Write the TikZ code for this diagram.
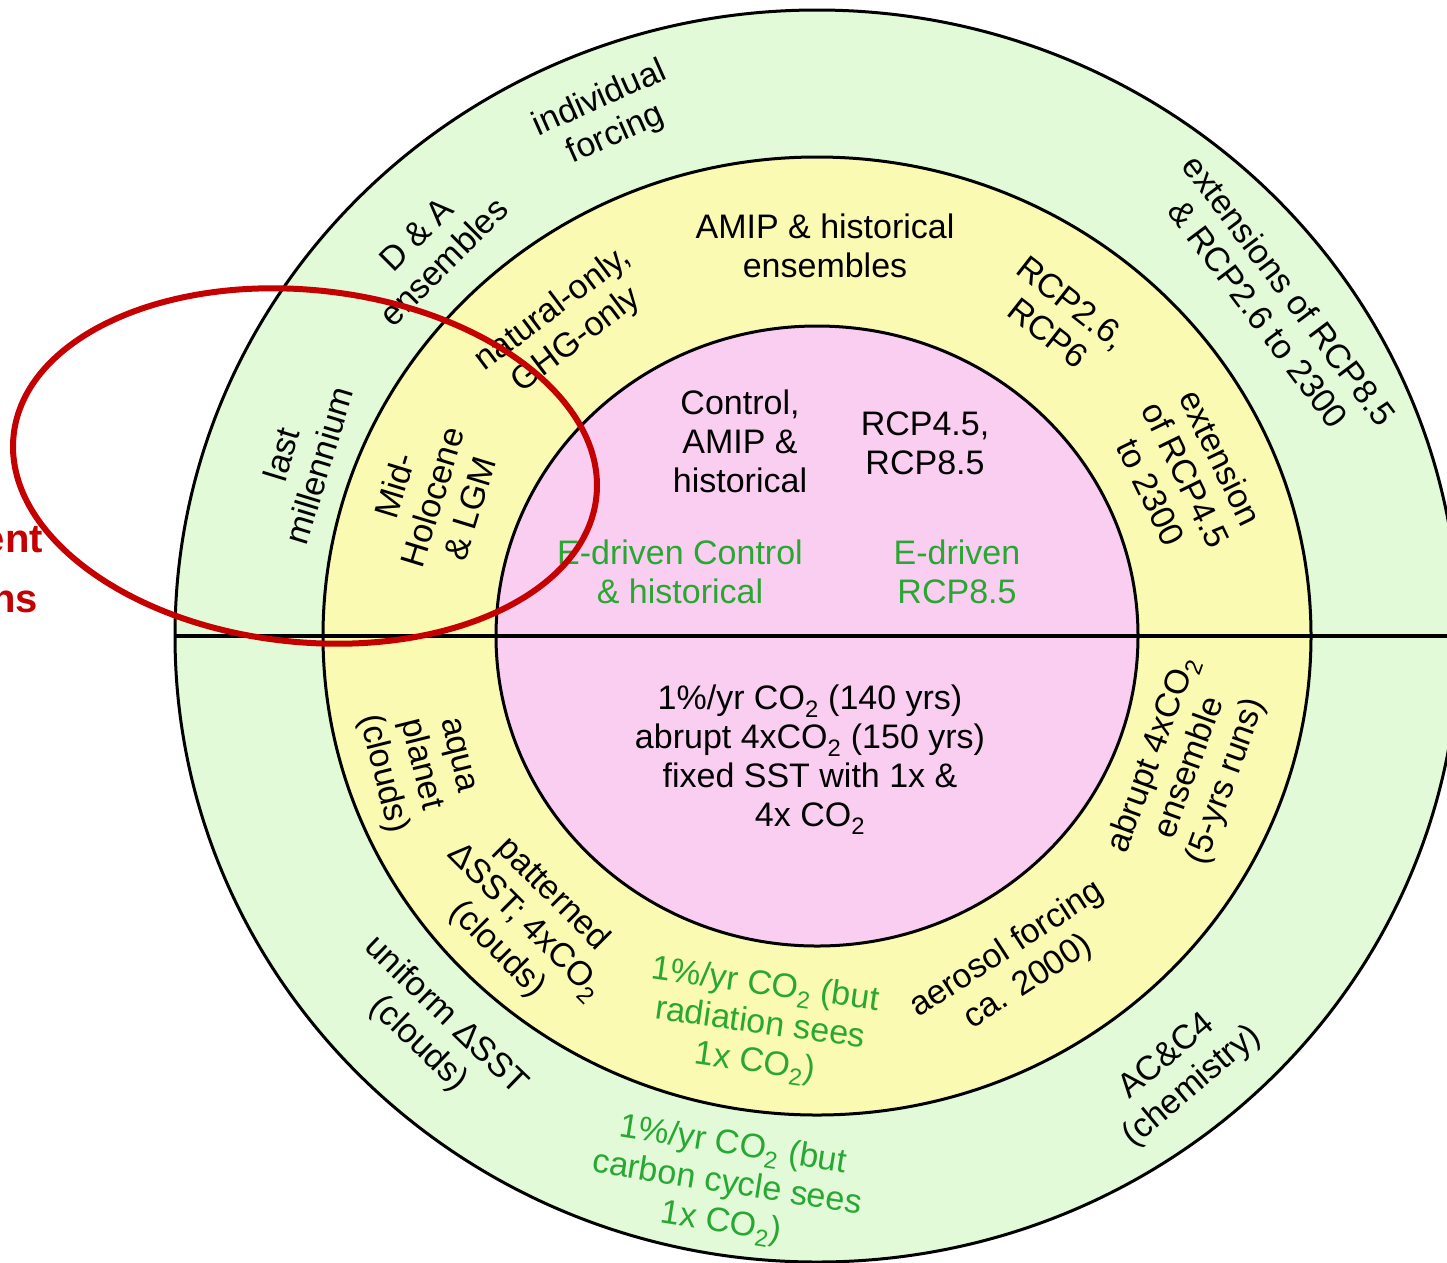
\documentclass[tikz,border=0pt]{standalone}
\usepackage{fontspec}
\setmainfont{Liberation Sans}
\definecolor{ringgreen}{RGB}{226,250,216}
\definecolor{ringyellow}{RGB}{250,250,178}
\definecolor{ringpink}{RGB}{250,206,240}
\definecolor{txtgreen}{RGB}{40,168,50}
\definecolor{markred}{RGB}{196,0,0}
\newcommand{\subtwo}{\textsubscript{2}}
\tikzset{
  ringline/.style={draw=black, line width=3pt},
  lbl/.style={align=center, inner sep=0pt, font=\fontsize{34}{39}\selectfont},
  glbl/.style={lbl, text=txtgreen},
  redtxt/.style={inner sep=0pt, text=markred, font=\fontsize{40}{46}\selectfont\bfseries, anchor=base east}
}
\begin{document}
\begin{tikzpicture}[x=1pt,y=-1pt]
\useasboundingbox (0,0) rectangle (1447,1262);
\fill[white] (0,0) rectangle (1447,1262);
% rings
\coordinate (c) at (817,636);
\filldraw[ringline, fill=ringgreen] (c) ellipse [x radius=642, y radius=626];
\filldraw[ringline, fill=ringyellow] (c) ellipse [x radius=494, y radius=479];
\filldraw[ringline, fill=ringpink] (c) ellipse [x radius=321, y radius=310];
\coordinate (lineL) at (175,636);
\coordinate (lineR) at (1460,636);
\draw[line width=3.5pt] (lineL) -- (lineR);
% outer ring labels
\node[lbl, rotate=24] (indiv) at (608,117) {individual\\forcing};
\node[lbl, rotate=45] (dna) at (430,248) {D \& A\\ensembles};
\node[lbl, rotate=73] (lastm) at (300,460) {last\\millennium};
\node[lbl, rotate=-53] (ext85) at (1274,302) {extensions of RCP8.5\\\& RCP2.6 to 2300};
\node[lbl, rotate=-44] (unif) at (432,1030) {uniform ΔSST\\(clouds)};
\node[glbl, rotate=-9] (carbon) at (727,1185) {1\%/yr CO\subtwo{} (but\\carbon cycle sees\\1x CO\subtwo)};
\node[lbl, rotate=40] (acc) at (1180,1072) {AC\&C4\\(chemistry)};
% middle ring labels
\node[lbl] (amipens) at (825,246) {AMIP \& historical\\ensembles};
\node[lbl, rotate=37] (natonly) at (565,325) {natural-only,\\GHG-only};
\node[lbl, rotate=73] (midh) at (432,497) {Mid-\\Holocene\\\& LGM};
\node[lbl, rotate=-38] (rcp26) at (1060,318) {RCP2.6,\\RCP6};
\node[lbl, rotate=-64] (ext45) at (1186,475) {extension\\of RCP4.5\\to 2300};
\node[lbl, rotate=-76] (aqua) at (418,765) {aqua\\planet\\(clouds)};
\node[lbl, rotate=-45] (patt) at (525,922) {patterned\\ΔSST; 4xCO\subtwo\\(clouds)};
\node[glbl, rotate=-8] (radn) at (760,1025) {1\%/yr CO\subtwo{} (but\\radiation sees\\1x CO\subtwo)};
\node[lbl, rotate=33] (aero) at (1018,966) {aerosol forcing\\ca. 2000)};
\node[lbl, rotate=70] (abr) at (1190,768) {abrupt 4xCO\subtwo\\ensemble\\(5-yrs runs)};
% inner labels
\node[lbl] (ctrl) at (740,441) {Control,\\AMIP \&\\historical};
\node[lbl] (rcp45) at (925,443) {RCP4.5,\\RCP8.5};
\node[glbl] (edc) at (680,572) {E-driven Control\\\& historical};
\node[glbl] (ed85) at (957,572) {E-driven\\RCP8.5};
\node[lbl] (onepct) at (810,760) {1\%/yr CO\subtwo{} (140 yrs)\\abrupt 4xCO\subtwo{} (150 yrs)\\fixed SST with 1x \&\\4x CO\subtwo};
% red highlight
\draw[markred, line width=6pt, rotate around={-6:(305,466)}] (305,466) ellipse [x radius=293, y radius=176];
\node[redtxt] (rt1) at (43,552) {ent};
\node[redtxt] (rt2) at (38,612) {ns};
\end{tikzpicture}
\end{document}
